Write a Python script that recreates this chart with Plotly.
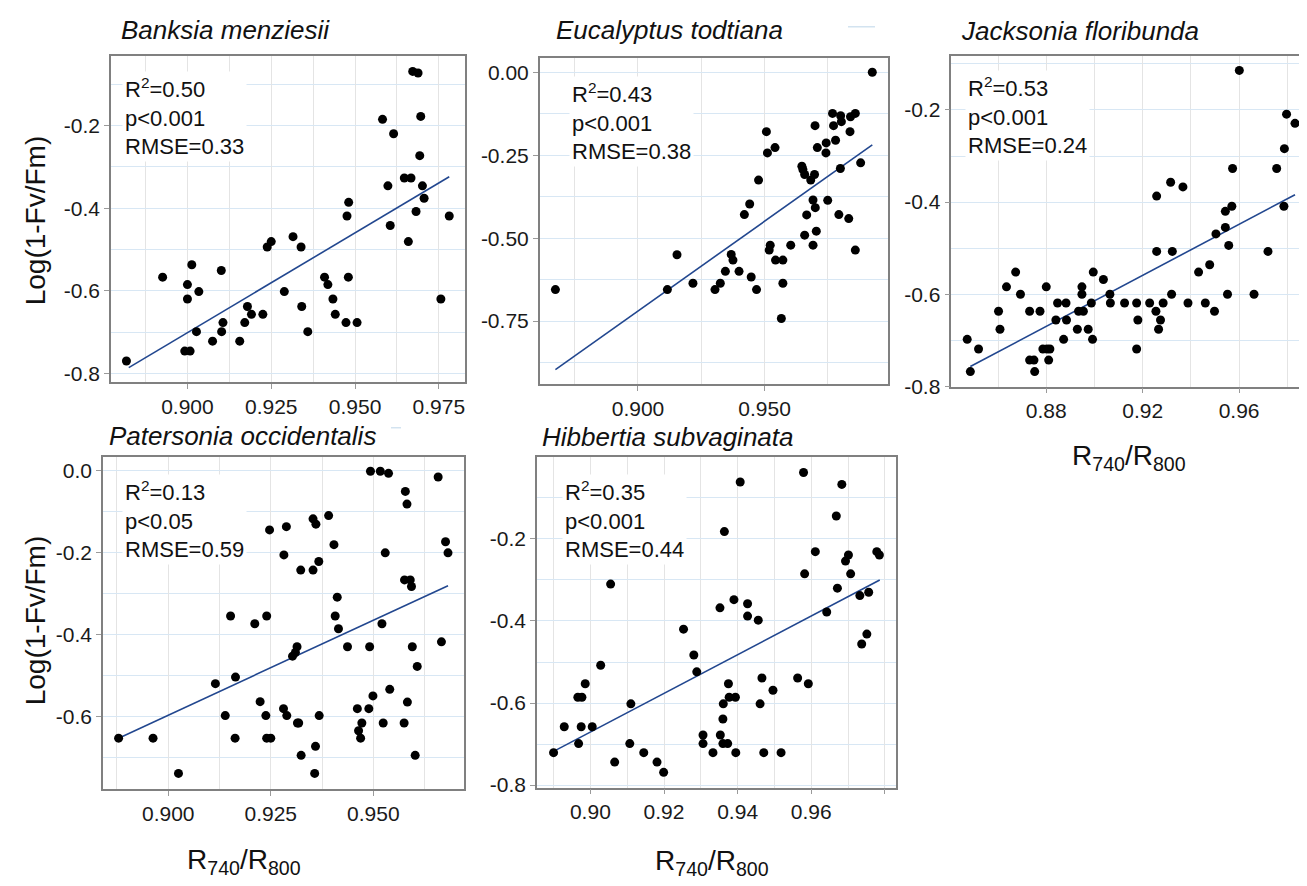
import plotly.graph_objects as go

W, H = 1307, 886

# ---------------- data ----------------
titles = ["Banksia menziesii", "Eucalyptus todtiana", "Jacksonia floribunda",
          "Patersonia occidentalis", "Hibbertia subvaginata"]
stats = [("0.50", "p&lt;0.001", "0.33"), ("0.43", "p&lt;0.001", "0.38"),
         ("0.53", "p&lt;0.001", "0.24"), ("0.13", "p&lt;0.05", "0.59"),
         ("0.35", "p&lt;0.001", "0.44")]

bm_x = [0.8818, 0.8926, 0.900, 0.900, 0.8992, 0.9008, 0.9013, 0.9034, 0.9027, 0.9075,
        0.9101, 0.9102, 0.9106, 0.9156, 0.9171, 0.9179, 0.9191, 0.9225, 0.9238, 0.925,
        0.9289, 0.9315, 0.9339, 0.9341, 0.9359, 0.9409, 0.9419, 0.9434, 0.9441, 0.9473,
        0.9476, 0.9480, 0.9481, 0.9506, 0.9582, 0.9598, 0.9605, 0.9615, 0.9647, 0.9667,
        0.9659, 0.9672, 0.9688, 0.9682, 0.9696, 0.9693, 0.9701, 0.9706, 0.9756, 0.9781]
bm_y = [-0.770, -0.567, -0.585, -0.620, -0.746, -0.746, -0.537, -0.602, -0.699, -0.722,
        -0.551, -0.699, -0.677, -0.722, -0.677, -0.638, -0.657, -0.657, -0.494, -0.481,
        -0.602, -0.469, -0.494, -0.638, -0.699, -0.567, -0.585, -0.620, -0.657, -0.677,
        -0.419, -0.567, -0.386, -0.677, -0.185, -0.346, -0.442, -0.220, -0.327, -0.327,
        -0.481, -0.069, -0.073, -0.408, -0.178, -0.273, -0.346, -0.376, -0.620, -0.419]
bm_fit_x = [0.8825, 0.9781]
bm_fit_y = [-0.786, -0.324]

et_x = [0.8674, 0.9116, 0.9154, 0.9217, 0.9304, 0.9325, 0.9345, 0.9368, 0.9375, 0.9399,
        0.9420, 0.9441, 0.9447, 0.9468, 0.9476, 0.9507, 0.9511, 0.9518, 0.9522, 0.9541,
        0.9543, 0.9566, 0.9572, 0.9572, 0.9603, 0.9647, 0.9651, 0.9658, 0.9658, 0.9666,
        0.9682, 0.9691, 0.9691, 0.9697, 0.9699, 0.9700, 0.9704, 0.9708, 0.9742, 0.9743,
        0.9749, 0.9768, 0.9772, 0.9780, 0.9793, 0.9799, 0.9800, 0.9803, 0.9832, 0.9837,
        0.9839, 0.9858, 0.9858, 0.9879, 0.9925]
et_y = [-0.655, -0.655, -0.550, -0.636, -0.655, -0.636, -0.600, -0.549, -0.566, -0.600,
        -0.429, -0.397, -0.617, -0.655, -0.325, -0.179, -0.243, -0.536, -0.521, -0.227,
        -0.566, -0.742, -0.566, -0.636, -0.521, -0.283, -0.293, -0.308, -0.491, -0.430,
        -0.325, -0.385, -0.521, -0.308, -0.161, -0.408, -0.479, -0.227, -0.243, -0.213,
        -0.386, -0.124, -0.161, -0.205, -0.429, -0.290, -0.131, -0.149, -0.441, -0.179,
        -0.134, -0.124, -0.536, -0.273, 0.000]
et_fit_x = [0.8674, 0.9925]
et_fit_y = [-0.896, -0.219]

jf_x = [0.8472, 0.8485, 0.8519, 0.8602, 0.8608, 0.8635, 0.8673, 0.8693, 0.8731, 0.8731,
        0.8749, 0.8752, 0.8774, 0.8786, 0.8800, 0.8803, 0.8810, 0.8815, 0.8840, 0.8847,
        0.8872, 0.8882, 0.8884, 0.8929, 0.8934, 0.8948, 0.8948, 0.8954, 0.8974, 0.8987,
        0.8992, 0.8995, 0.9037, 0.9064, 0.9066, 0.9125, 0.9175, 0.9175, 0.9180, 0.9229,
        0.9255, 0.9258, 0.9258, 0.9266, 0.9274, 0.9285, 0.9316, 0.9320, 0.9323, 0.9367,
        0.9388, 0.9432, 0.9460, 0.9478, 0.9498, 0.9504, 0.9543, 0.9543, 0.9552, 0.9557,
        0.9570, 0.9573, 0.9601, 0.9662, 0.9720, 0.9756, 0.9786, 0.9788, 0.9797, 0.9832]
jf_y = [-0.698, -0.768, -0.719, -0.637, -0.676, -0.584, -0.552, -0.600, -0.637, -0.743,
        -0.743, -0.768, -0.637, -0.719, -0.584, -0.719, -0.743, -0.719, -0.656, -0.619,
        -0.698, -0.619, -0.656, -0.676, -0.637, -0.584, -0.600, -0.637, -0.676, -0.619,
        -0.698, -0.552, -0.568, -0.600, -0.619, -0.619, -0.619, -0.719, -0.656, -0.619,
        -0.637, -0.387, -0.507, -0.676, -0.656, -0.619, -0.357, -0.600, -0.507, -0.367,
        -0.619, -0.552, -0.619, -0.536, -0.637, -0.469, -0.420, -0.455, -0.600, -0.494,
        -0.409, -0.327, -0.114, -0.600, -0.507, -0.327, -0.409, -0.284, -0.209, -0.229]
jf_fit_x = [0.8485, 0.9832]
jf_fit_y = [-0.757, -0.384]

po_x = [0.8879, 0.8963, 0.9025, 0.9115, 0.9139, 0.9152, 0.9163, 0.9164, 0.9211, 0.9224,
        0.9238, 0.9240, 0.9240, 0.9247, 0.9250, 0.9281, 0.9282, 0.9288, 0.9289, 0.9303,
        0.9310, 0.9314, 0.9315, 0.9318, 0.9323, 0.9324, 0.9353, 0.9353, 0.9357, 0.9359,
        0.9360, 0.9367, 0.9368, 0.9391, 0.9404, 0.9407, 0.9412, 0.9415, 0.9437, 0.9461,
        0.9464, 0.9469, 0.9472, 0.9489, 0.9491, 0.9493, 0.9499, 0.9517, 0.9521, 0.9524,
        0.9529, 0.9537, 0.9540, 0.9575, 0.9576, 0.9578, 0.9582, 0.9583, 0.9590, 0.9593,
        0.9595, 0.9602, 0.9607, 0.9658, 0.9666, 0.9676, 0.9682]
po_y = [-0.653, -0.653, -0.739, -0.520, -0.598, -0.355, -0.653, -0.504, -0.374, -0.564,
        -0.598, -0.355, -0.653, -0.145, -0.653, -0.581, -0.206, -0.137, -0.598, -0.453,
        -0.444, -0.430, -0.616, -0.616, -0.243, -0.695, -0.118, -0.243, -0.739, -0.673,
        -0.131, -0.222, -0.598, -0.110, -0.181, -0.355, -0.309, -0.386, -0.430, -0.581,
        -0.635, -0.653, -0.616, -0.581, -0.430, -0.002, -0.550, -0.002, -0.374, -0.616,
        -0.201, -0.007, -0.534, -0.616, -0.267, -0.051, -0.082, -0.565, -0.267, -0.283,
        -0.430, -0.695, -0.478, -0.016, -0.418, -0.174, -0.201]
po_fit_x = [0.8879, 0.9682]
po_fit_y = [-0.653, -0.281]

hs_x = [0.8900, 0.8929, 0.8966, 0.8968, 0.8975, 0.8977, 0.8986, 0.9005, 0.9028, 0.9055,
        0.9066, 0.9107, 0.9110, 0.9145, 0.9181, 0.9199, 0.9253, 0.9281, 0.9289, 0.9306,
        0.9306, 0.9333, 0.9352, 0.9353, 0.9360, 0.9360, 0.9361, 0.9364, 0.9373, 0.9375,
        0.9377, 0.9390, 0.9394, 0.9395, 0.9407, 0.9427, 0.9427, 0.9456, 0.9461, 0.9466,
        0.9471, 0.9496, 0.9518, 0.9563, 0.9579, 0.9582, 0.9592, 0.9611, 0.9642, 0.9668,
        0.9671, 0.9683, 0.9693, 0.9701, 0.9707, 0.9732, 0.9737, 0.9751, 0.9756, 0.9778,
        0.9785]
hs_y = [-0.721, -0.658, -0.586, -0.699, -0.658, -0.586, -0.553, -0.658, -0.508, -0.310,
        -0.744, -0.699, -0.602, -0.721, -0.744, -0.769, -0.420, -0.483, -0.524, -0.678,
        -0.699, -0.721, -0.368, -0.678, -0.639, -0.699, -0.602, -0.182, -0.699, -0.553,
        -0.586, -0.348, -0.586, -0.721, -0.061, -0.358, -0.388, -0.398, -0.602, -0.539,
        -0.721, -0.569, -0.721, -0.539, -0.038, -0.285, -0.553, -0.231, -0.378, -0.144,
        -0.320, -0.067, -0.254, -0.239, -0.285, -0.338, -0.456, -0.432, -0.330, -0.231,
        -0.239]
hs_fit_x = [0.8900, 0.9786]
hs_fit_y = [-0.718, -0.300]

x_tickvals = [[0.900, 0.925, 0.950, 0.975], [0.900, 0.950], [0.88, 0.92, 0.96],
              [0.900, 0.925, 0.950], [0.90, 0.92, 0.94, 0.96, 0.98]]
x_ticktext = [["0.900", "0.925", "0.950", "0.975"], ["0.900", "0.950"], ["0.88", "0.92", "0.96"],
              ["0.900", "0.925", "0.950"], ["0.90", "0.92", "0.94", "0.96", ""]]
y_tickvals = [[-0.8, -0.6, -0.4, -0.2], [-0.75, -0.5, -0.25, 0.0], [-0.8, -0.6, -0.4, -0.2],
              [-0.6, -0.4, -0.2, 0.0], [-0.8, -0.6, -0.4, -0.2, 0.0]]
y_ticktext = [["-0.8", "-0.6", "-0.4", "-0.2"], ["-0.75", "-0.50", "-0.25", "0.00"],
              ["-0.8", "-0.6", "-0.4", "-0.2"], ["-0.6", "-0.4", "-0.2", "0.0"],
              ["-0.8", "-0.6", "-0.4", "-0.2", ""]]
x_minor = [0.0125, 0.025, 0.02, 0.0125, 0.01]
y_minor = [0.1, 0.125, 0.1, 0.1, 0.1]

series = [(bm_x, bm_y, bm_fit_x, bm_fit_y), (et_x, et_y, et_fit_x, et_fit_y),
          (jf_x, jf_y, jf_fit_x, jf_fit_y), (po_x, po_y, po_fit_x, po_fit_y),
          (hs_x, hs_y, hs_fit_x, hs_fit_y)]

# ---------------- layout geometry (pixels) ----------------
boxes = [(103, 457, 49, 379), (531.7, 880, 50.7, 380.7), (943.3, 1301.7, 49, 383.3),
         (95, 456, 454.3, 791), (529, 888.3, 455, 789.3)]
x_ranges = [[0.8772, 0.9828], [0.8612, 0.9987], [0.8406, 0.9893], [0.8841, 0.9721], [0.8855, 0.9831]]
y_ranges = [[-0.8215, -0.0327], [-0.9394, 0.0427], [-0.8005, -0.0836], [-0.7775, 0.0337], [-0.806, -0.001]]
stat_pos = [(114, 64), (561, 69), (957, 63), (114, 472), (554, 472)]
title_pos = [(111, 22), (546, 22), (951, 23), (99, 433), (532, 434)]

FONT = "Liberation Sans, Arial, sans-serif"
VGRID = "#e4e4e4"
HGRID = "#d8e7f4"
LINE = "#22478f"


def px(x):
    return x / W


def py(y):
    return 1 - y / H


fig = go.Figure()
layout = dict(width=W, height=H, margin=dict(l=0, r=0, t=0, b=0),
              paper_bgcolor="white", plot_bgcolor="white", showlegend=False,
              font=dict(family=FONT, size=20, color="#1a1a1a"))
annotations = []

for i, (sx, sy, fx, fy) in enumerate(series):
    n = "" if i == 0 else str(i + 1)
    xa, ya = "x" + n, "y" + n
    fig.add_trace(go.Scatter(x=fx, y=fy, mode="lines", xaxis=xa, yaxis=ya,
                             line=dict(color=LINE, width=1.6), hoverinfo="skip"))
    fig.add_trace(go.Scatter(x=sx, y=sy, mode="markers", xaxis=xa, yaxis=ya,
                             marker=dict(color="black", size=9, line=dict(width=0))))
    l, r, t, b = boxes[i]
    common = dict(showline=True, linecolor="#808080", linewidth=1.5, mirror=True,
                  ticks="outside", ticklen=5, tickwidth=1, tickcolor="#9a9a9a",
                  tickfont=dict(size=21, family=FONT, color="#1a1a1a"), zeroline=False,
                  showgrid=True, gridwidth=1)
    layout["xaxis" + n] = dict(domain=[px(l), px(r)], anchor=ya, range=x_ranges[i],
                               tickmode="array", tickvals=x_tickvals[i], ticktext=x_ticktext[i],
                               gridcolor=VGRID,
                               minor=dict(dtick=x_minor[i], tick0=0, showgrid=True,
                                          gridcolor=VGRID, gridwidth=1),
                               **common)
    layout["yaxis" + n] = dict(domain=[py(b), py(t)], anchor=xa, range=y_ranges[i],
                               tickmode="array", tickvals=y_tickvals[i], ticktext=y_ticktext[i],
                               gridcolor=HGRID,
                               minor=dict(dtick=y_minor[i], tick0=0, showgrid=True,
                                          gridcolor=HGRID, gridwidth=1),
                               **common)
    r2, p, rmse = stats[i]
    sxp, syp = stat_pos[i]
    annotations.append(dict(x=px(sxp), y=py(syp), xref="paper", yref="paper",
                            xanchor="left", yanchor="top", align="left", showarrow=False,
                            bgcolor="white", borderpad=2,
                            text=f"R<sup>2</sup>={r2}<br>{p}<br>RMSE={rmse}",
                            font=dict(size=22, family=FONT, color="#111")))
    tx, ty = title_pos[i]
    annotations.append(dict(x=px(tx), y=py(ty), xref="paper", yref="paper",
                            xanchor="left", yanchor="middle", showarrow=False,
                            text=f"<i>{titles[i]}</i>",
                            font=dict(size=26, family=FONT, color="#111")))

ytitle = "Log(1-Fv/Fm)"
for (x0, y0) in [(27, 215), (27, 620)]:
    annotations.append(dict(x=px(x0), y=py(y0), xref="paper", yref="paper",
                            xanchor="center", yanchor="middle", showarrow=False,
                            textangle=-90, text=ytitle,
                            font=dict(size=28, family=FONT, color="#111")))
xtitle = "R<sub>740</sub>/R<sub>800</sub>"
for (x0, y0) in [(1121, 455), (236, 864), (704, 865)]:
    annotations.append(dict(x=px(x0), y=py(y0), xref="paper", yref="paper",
                            xanchor="center", yanchor="middle", showarrow=False,
                            text=xtitle,
                            font=dict(size=28, family=FONT, color="#111")))

# faint stray dashes that appear next to two panel titles in the reference
shapes = [dict(type="line", xref="paper", yref="paper", x0=px(840), x1=px(867),
               y0=py(19), y1=py(19), line=dict(color="#d3e3f0", width=1.5)),
          dict(type="line", xref="paper", yref="paper", x0=px(383), x1=px(393),
               y0=py(425), y1=py(425), line=dict(color="#d3e3f0", width=1.5))]

layout["annotations"] = annotations
layout["shapes"] = shapes
fig.update_layout(**layout)
fig.write_html("out.html")
